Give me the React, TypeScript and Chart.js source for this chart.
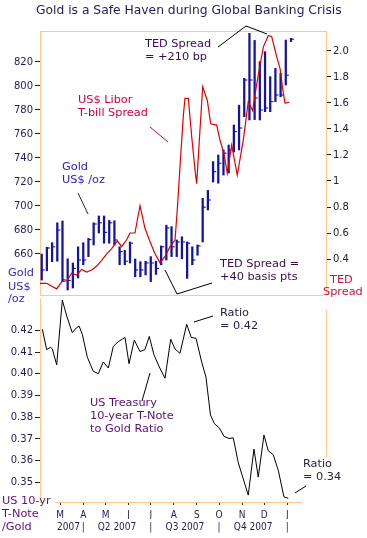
import React, { useEffect, useRef } from "react";
import { Chart, registerables } from "chart.js";
Chart.register(...registerables);

// ---------- data ----------
// x values are days counted from 1 Jan 2007 (day 0)
const X_MIN = 31.7;
const X_MAX = 417.2;

const GOLD_DAYS = [34, 41, 48, 55, 62, 69, 76, 83, 90, 97, 104, 111, 118, 125, 132, 139, 146, 153, 160, 167, 174, 181, 188, 195, 202, 209, 216, 223, 230, 237, 244, 251, 258, 265, 272, 279, 286, 293, 300, 307, 314, 321, 328, 335, 342, 349, 356, 363, 370];
const GOLD_HIGH = [660, 665.6, 669.4, 686, 687.5, 656, 652.5, 666, 669.4, 673, 686, 691.7, 691.7, 688, 687.7, 666, 663, 670, 655.8, 653.6, 654, 657.8, 654, 666.7, 684, 682.8, 671.7, 674.4, 670, 666, 667.5, 706.4, 713, 737, 742.5, 746.7, 750.8, 767.5, 784, 806.4, 843.9, 838, 820.3, 828.6, 807.8, 814.7, 810.6, 838.3, 839.7];
const GOLD_LOW = [638.3, 646, 653.6, 654, 637, 630, 631.7, 640, 651, 657.8, 667.5, 677.5, 669, 669, 667.5, 651, 651, 652.5, 641, 641, 642.5, 637, 643, 651, 655, 657.8, 657.8, 656, 639.7, 651, 659, 670, 696.7, 720, 719, 725.8, 727.5, 745, 746.7, 774.4, 771.7, 772, 771.7, 778.6, 778.6, 787, 791, 800.8, 837];
const GOLD_CLOSE = [646.7, 665, 666, 680, 638.5, 638, 648, 655, 655, 672, 685, 686, 678, 686, 671.7, 662, 654, 669, 646.7, 646.7, 652.5, 652.5, 648, 666, 681.7, 666, 670, 670, 669, 655, 666.7, 699, 705, 728.6, 735.6, 744, 746.7, 762, 765, 805, 805, 790, 780, 781.7, 787, 792.5, 792.5, 809, 839];

const TED_DAYS = [31.7, 40.7, 47.5, 54.2, 61, 67.7, 74.4, 81.2, 87.9, 94.6, 101.4, 108.1, 114.9, 121.6, 128.3, 135.9, 141.8, 148.6, 153, 159.7, 166.5, 173.2, 180, 186.7, 193.5, 200.2, 206.9, 213.7, 216.7, 220.4, 224.8, 227.1, 231.6, 236.2, 240.6, 242.9, 247.3, 251, 257.2, 261.8, 269.8, 274.3, 279.7, 284.1, 290.1, 297.6, 305.7, 312.4, 318.4, 322.8, 328.2, 332.7, 339.4, 344, 350.7, 355.2, 358.8, 361.9, 367.7];
const TED_VALUES = [0.213, 0.213, 0.19, 0.17, 0.225, 0.233, 0.29, 0.277, 0.32, 0.3, 0.315, 0.346, 0.39, 0.44, 0.48, 0.54, 0.495, 0.55, 0.6, 0.6, 0.81, 0.636, 0.533, 0.44, 0.37, 0.42, 0.495, 0.546, 0.777, 1.11, 1.495, 1.636, 1.636, 1.34, 1.085, 0.98, 1.39, 1.725, 1.62, 1.44, 1.43, 1.315, 1.21, 1.06, 1.277, 1.046, 1.315, 1.61, 1.54, 1.71, 1.89, 2.03, 2.12, 2.11, 1.956, 1.867, 1.71, 1.6, 1.605];

const RATIO_DAYS = [34.8, 40.7, 46.1, 48.3, 54.2, 61.8, 67.7, 75.2, 78.9, 84.3, 88.7, 95.5, 103.5, 110.3, 117, 123.8, 130.5, 137.2, 146.3, 151.7, 158.8, 166.5, 173.2, 179, 185.3, 192.5, 200.2, 207.9, 213.6, 220.4, 229.4, 235.6, 242, 249.6, 255.4, 261.5, 266.9, 273.6, 279.7, 286.4, 292.2, 299, 312.4, 320.1, 325.9, 333.6, 339.4, 346.1, 352.9, 360.5, 366.3];
const RATIO_VALUES = [0.4206, 0.4112, 0.4123, 0.4115, 0.4042, 0.434, 0.4267, 0.419, 0.4206, 0.4221, 0.4183, 0.4077, 0.4012, 0.4001, 0.4055, 0.4027, 0.4127, 0.4149, 0.4168, 0.4047, 0.4156, 0.4103, 0.4112, 0.4173, 0.4088, 0.4032, 0.398, 0.416, 0.4115, 0.4095, 0.4229, 0.4168, 0.4164, 0.4055, 0.3985, 0.381, 0.377, 0.375, 0.3712, 0.3702, 0.3705, 0.359, 0.3441, 0.3653, 0.3524, 0.3718, 0.3645, 0.3627, 0.3555, 0.3433, 0.3426];

const GOLD_TICKS = [660, 680, 700, 720, 740, 760, 780, 800, 820];
const TED_TICKS = [0.4, 0.6, 0.8, 1, 1.2, 1.4, 1.6, 1.8, 2.0];
const TED_TICK_LABELS = ["0.4", "0.6", "0.8", "1", "1.2", "1.4", "1.6", "1.8", "2.0"];
const RATIO_TICKS = [0.35, 0.36, 0.37, 0.38, 0.39, 0.4, 0.41, 0.42];
const MONTH_DAYS = [59, 90, 120, 151, 181, 212, 243, 273, 304, 334, 365];
const MONTH_LABELS = ["M", "A", "M", "J", "J", "A", "S", "O", "N", "D", "J"];
const QUARTER_DAYS = [70, 90, 135.5, 181, 227, 273, 319, 365];
const QUARTER_LABELS = ["2007", "|", "Q2 2007", "|", "Q3 2007", "|", "Q4 2007", "|"];

// ---------- styles ----------
const F = "DejaVu Sans";
const F_NARROW = "'DejaVu Sans Condensed', 'Noto Sans'";
const ORANGE = "#ffc88c";
const GOLD_COLOR = "#1414a0";
const RED = "#e00000";
const NAVY = "#1c1c5c";
const ANN = "11.3px " + F;

type Txt = { t: string; x: number; y: number; c: string; font?: string };
type Seg = { p: number[][]; c: string };

function overlay(id: string, dy: number, texts: Txt[], segs: Seg[], frame: (ctx: CanvasRenderingContext2D, ca: any) => void) {
  return {
    id,
    afterDraw(chart: any) {
      const ctx: CanvasRenderingContext2D = chart.ctx;
      ctx.save();
      frame(ctx, chart.chartArea);
      ctx.lineWidth = 1;
      for (const s of segs) {
        ctx.strokeStyle = s.c;
        ctx.beginPath();
        s.p.forEach((pt, i) => (i ? ctx.lineTo(pt[0], pt[1] - dy) : ctx.moveTo(pt[0], pt[1] - dy)));
        ctx.stroke();
      }
      ctx.textBaseline = "middle";
      ctx.textAlign = "left";
      for (const t of texts) {
        ctx.font = t.font || ANN;
        ctx.fillStyle = t.c;
        ctx.fillText(t.t, t.x, t.y - dy);
      }
      ctx.restore();
    },
  };
}

const TOP_TEXTS: Txt[] = [
  { t: "Gold is a Safe Haven during Global Banking Crisis", x: 36, y: 11, c: "#231a5e", font: "12.3px " + F },
  { t: "TED Spread", x: 145, y: 44, c: "#3a0a4a" },
  { t: "= +210 bp", x: 145, y: 57, c: "#3a0a4a" },
  { t: "US$ Libor", x: 78, y: 100, c: "#d4003c" },
  { t: "T-bill Spread", x: 78, y: 113, c: "#d4003c" },
  { t: "Gold", x: 62, y: 167, c: "#3020b8" },
  { t: "US$ /oz", x: 62, y: 180, c: "#3020b8" },
  { t: "TED Spread =", x: 220, y: 264, c: "#3a0a4a" },
  { t: "+40 basis pts", x: 220, y: 277, c: "#3a0a4a" },
  { t: "Gold", x: 8, y: 273, c: "#3a2ac0" },
  { t: "US$", x: 8, y: 287, c: "#3a2ac0" },
  { t: "TED", x: 330, y: 280, c: "#d0103c" },
  { t: "Spread", x: 323, y: 292, c: "#d0103c" },
];
const TOP_SEGS: Seg[] = [
  { p: [[218, 47], [246, 26], [267, 34]], c: "#000" },
  { p: [[150, 127], [168, 142]], c: "#d4003c" },
  { p: [[78, 193], [88, 214]], c: "#1c1c5c" },
  { p: [[165, 270], [177, 294], [212, 283]], c: "#000" },
];
const BOT_TEXTS: Txt[] = [
  { t: "/oz", x: 8, y: 299, c: "#3a2ac0" },
  { t: "Ratio", x: 220, y: 313, c: "#2a2040" },
  { t: "= 0.42", x: 220, y: 326, c: "#2a2040" },
  { t: "US Treasury", x: 90, y: 403, c: "#5a1070" },
  { t: "10-year T-Note", x: 90, y: 416, c: "#5a1070" },
  { t: "to Gold Ratio", x: 90, y: 429, c: "#5a1070" },
  { t: "Ratio", x: 303, y: 464, c: "#2a2040" },
  { t: "= 0.34", x: 303, y: 477, c: "#2a2040" },
  { t: "US 10-yr", x: 2, y: 501, c: "#60107a" },
  { t: "T-Note", x: 2, y: 514, c: "#60107a" },
  { t: "/Gold", x: 2, y: 527, c: "#60107a" },
];
const BOT_SEGS: Seg[] = [
  { p: [[194, 322], [213, 316]], c: "#000" },
  { p: [[142, 401], [150, 373]], c: "#000" },
  { p: [[295, 493], [306, 486]], c: "#000" },
];

export default function App() {
  const topRef = useRef<HTMLCanvasElement>(null);
  const botRef = useRef<HTMLCanvasElement>(null);

  useEffect(() => {
    Chart.defaults.font.family = F;
    const tickFont = { family: F, size: 10 };
    const axisFont = { family: F_NARROW, size: 10 };

    const top = new Chart(topRef.current!, {
      type: "bar",
      data: {
        datasets: [
          {
            type: "line",
            label: "TED Spread",
            data: TED_DAYS.map((d, i) => ({ x: d, y: TED_VALUES[i] })),
            borderColor: RED,
            borderWidth: 1.2,
            pointRadius: 0,
            tension: 0,
            yAxisID: "yT",
            order: 0,
          } as any,
          {
            type: "scatter",
            label: "Gold close",
            data: GOLD_DAYS.map((d, i) => ({ x: d + 2, y: GOLD_CLOSE[i] })),
            pointStyle: "line",
            pointRadius: 1.6,
            borderColor: GOLD_COLOR,
            borderWidth: 1.1,
            yAxisID: "y",
            order: 1,
          } as any,
          {
            type: "bar",
            label: "Gold range",
            data: GOLD_DAYS.map((d, i) => ({ x: d, y: [GOLD_LOW[i], GOLD_HIGH[i]] })),
            backgroundColor: GOLD_COLOR,
            borderWidth: 0,
            barThickness: 1.6,
            yAxisID: "y",
            order: 2,
          } as any,
        ],
      },
      options: {
        responsive: false,
        animation: false,
        events: [],
        layout: { padding: { left: 0, right: 0, top: 31, bottom: 15 }, autoPadding: false },
        plugins: { legend: { display: false }, tooltip: { enabled: false }, title: { display: false } },
        scales: {
          x: { type: "linear", min: X_MIN, max: X_MAX, display: false, offset: false, grid: { offset: false } },
          y: {
            type: "linear",
            position: "left",
            min: 625.83,
            max: 845.83,
            bounds: "data",
            beginAtZero: false,
            afterBuildTicks: (s: any) => { s.ticks = GOLD_TICKS.map((v) => ({ value: v })); },
            afterFit: (s: any) => { s.width = 40; },
            ticks: { font: tickFont, color: NAVY, padding: 2, autoSkip: false, callback: (v: any) => String(v) },
            grid: { drawOnChartArea: false, tickLength: 5, color: "#202030" },
            border: { color: ORANGE, width: 1 },
          },
          yT: {
            type: "linear",
            position: "right",
            min: 0.1231,
            max: 2.1538,
            bounds: "data",
            beginAtZero: false,
            afterBuildTicks: (s: any) => { s.ticks = TED_TICKS.map((v) => ({ value: v })); },
            afterFit: (s: any) => { s.width = 41; },
            ticks: {
              font: tickFont, color: "#202040", padding: 2, autoSkip: false,
              callback: (v: any) => TED_TICK_LABELS[TED_TICKS.indexOf(Number(v))] ?? String(v),
            },
            grid: { drawOnChartArea: false, tickLength: 5, color: "#202030" },
            border: { color: ORANGE, width: 1 },
          },
        } as any,
      },
      plugins: [
        overlay("topOverlay", 0, TOP_TEXTS, TOP_SEGS, (ctx, ca) => {
          ctx.strokeStyle = ORANGE;
          ctx.lineWidth = 1;
          ctx.beginPath();
          ctx.moveTo(ca.left, ca.top + 0.5);
          ctx.lineTo(ca.right, ca.top + 0.5);
          ctx.moveTo(ca.left, ca.bottom + 0.5);
          ctx.lineTo(ca.right - 3, ca.bottom + 0.5);
          ctx.stroke();
        }) as any,
      ],
    });

    const bot = new Chart(botRef.current!, {
      type: "line",
      data: {
        datasets: [
          {
            label: "Ratio",
            data: RATIO_DAYS.map((d, i) => ({ x: d, y: RATIO_VALUES[i] })),
            borderColor: "#000",
            borderWidth: 1,
            pointRadius: 0,
            tension: 0,
            xAxisID: "x",
            yAxisID: "y",
          },
        ],
      },
      options: {
        responsive: false,
        animation: false,
        events: [],
        layout: { padding: { left: 0, right: 41, top: 5, bottom: 0 }, autoPadding: false },
        plugins: { legend: { display: false }, tooltip: { enabled: false } },
        scales: {
          x: {
            type: "linear",
            position: "bottom",
            min: X_MIN,
            max: X_MAX,
            offset: false,
            bounds: "data",
            afterBuildTicks: (s: any) => { s.ticks = MONTH_DAYS.map((v) => ({ value: v })); },
            afterFit: (s: any) => { s.height = 17; },
            ticks: {
              font: axisFont, color: NAVY, padding: 4, autoSkip: false, maxRotation: 0, minRotation: 0,
              callback: (_v: any, i: number) => MONTH_LABELS[i],
            },
            grid: { drawOnChartArea: false, tickLength: 3, color: "#303040" },
            border: { display: false },
          },
          x2: {
            type: "linear",
            position: "bottom",
            min: X_MIN,
            max: X_MAX,
            offset: false,
            bounds: "data",
            afterBuildTicks: (s: any) => { s.ticks = QUARTER_DAYS.map((v) => ({ value: v })); },
            afterFit: (s: any) => { s.height = 19; },
            ticks: {
              font: axisFont, color: NAVY, padding: 2, autoSkip: false, maxRotation: 0, minRotation: 0,
              callback: (_v: any, i: number) => QUARTER_LABELS[i],
            },
            grid: { display: false, drawTicks: false },
            border: { display: false },
          },
          y: {
            type: "linear",
            position: "left",
            min: 0.34091,
            max: 0.435,
            bounds: "data",
            beginAtZero: false,
            afterBuildTicks: (s: any) => { s.ticks = RATIO_TICKS.map((v) => ({ value: v })); },
            afterFit: (s: any) => { s.width = 40; },
            ticks: { font: tickFont, color: NAVY, padding: 2, autoSkip: false, callback: (v: any) => Number(v).toFixed(2) },
            grid: { drawOnChartArea: false, tickLength: 5, color: "#202030" },
            border: { color: ORANGE, width: 1 },
          },
        } as any,
      },
      plugins: [
        overlay("botOverlay", 290, BOT_TEXTS, BOT_SEGS, (ctx, ca) => {
          ctx.strokeStyle = ORANGE;
          ctx.lineWidth = 1;
          ctx.beginPath();
          ctx.moveTo(55, ca.bottom + 0.5);
          ctx.lineTo(302, ca.bottom + 0.5);
          ctx.moveTo(ca.right + 0.5, ca.top + 12);
          ctx.lineTo(ca.right + 0.5, ca.bottom - 45);
          ctx.stroke();
        }) as any,
      ],
    });

    return () => {
      top.destroy();
      bot.destroy();
    };
  }, []);

  return (
    <div style={{ position: "fixed", left: 0, top: 0, width: 367, height: 538, background: "#fff", overflow: "hidden" }}>
      <canvas ref={topRef} width={367} height={310} style={{ position: "absolute", left: 0, top: 0, width: 367, height: 310 }} />
      <canvas ref={botRef} width={367} height={248} style={{ position: "absolute", left: 0, top: 290, width: 367, height: 248 }} />
    </div>
  );
}
